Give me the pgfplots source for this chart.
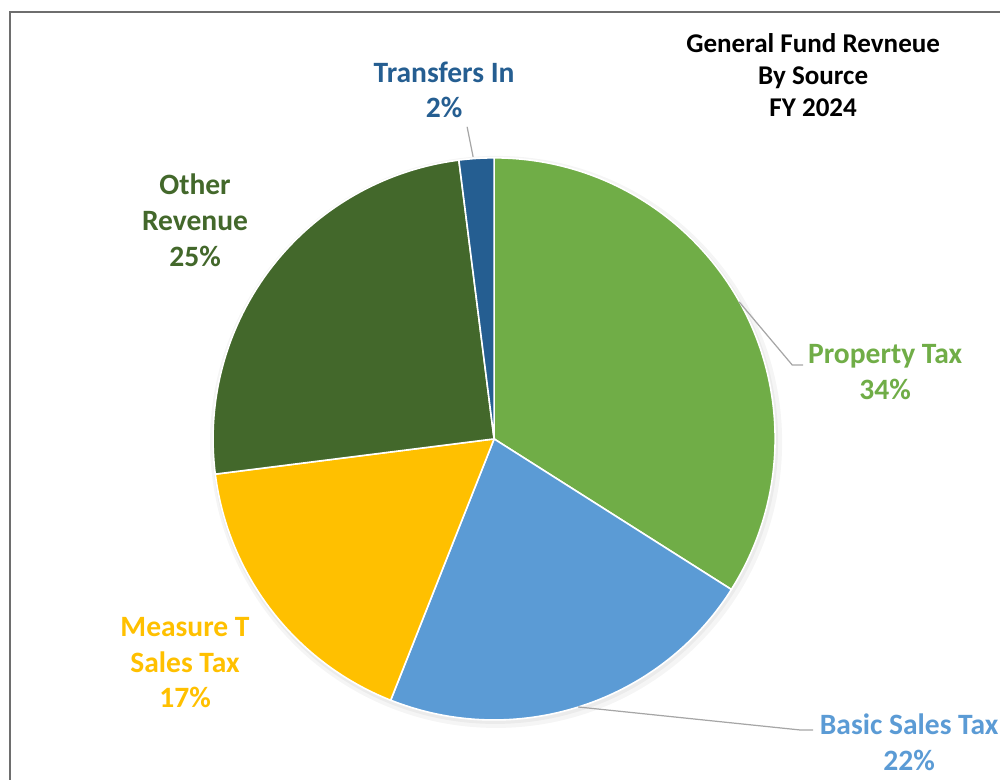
\documentclass[border=0pt]{standalone}
\usepackage{pgfplots}
\pgfplotsset{compat=1.18}
\usepackage{fontspec}
\setmainfont{Carlito}
\definecolor{proptax}{HTML}{70AD47}
\definecolor{basicsales}{HTML}{5B9BD5}
\definecolor{measuret}{HTML}{FFC000}
\definecolor{otherrev}{HTML}{43682B}
\definecolor{transfers}{HTML}{255E91}
\definecolor{leader}{HTML}{A6A6A6}
\definecolor{frame}{HTML}{6E6E6E}

% one pie slice: #1 cumulative percent before it, #2 its percent, #3 colour
\newcommand{\slice}[3]{%
  \fill[#3, draw=white, line width=0.9pt]
    (axis cs:494,341)
    -- (axis cs:{494+281*cos(90-3.6*#1)},{341+281*sin(90-3.6*#1)})
    arc[start angle={90-3.6*#1}, end angle={90-3.6*(#1+#2)}, radius=5.62cm]
    -- cycle;}
% one line of label text at a baseline
\newcommand{\lbl}[4]{\node[#1, anchor=base, font=\bfseries\fontsize{#2}{#2}\selectfont, inner sep=0pt] at (axis cs:#3) {#4};}

\begin{document}
\begin{tikzpicture}
\useasboundingbox (0,0) rectangle (20cm,15.6cm);
\begin{axis}[
    at={(0,0)}, anchor=south west,
    x=0.02cm, y=0.02cm,
    xmin=0, xmax=1000, ymin=0, ymax=780,
    hide axis, clip=false
]
% frame of the chart area
\draw[frame, line width=1pt] (axis cs:10,-5) -- (axis cs:10,768) -- (axis cs:1005,768);

% soft shadow
\fill[black, opacity=0.04] (axis cs:496,338) circle[radius=5.72cm];
\fill[black, opacity=0.04] (axis cs:495,339) circle[radius=5.66cm];

% slices, clockwise from 12 o'clock
\slice{0}{34}{proptax}
\slice{34}{22}{basicsales}
\slice{56}{17}{measuret}
\slice{73}{25}{otherrev}
\slice{98}{2}{transfers}

% leader lines
\draw[leader, line width=0.7pt] (axis cs:467,653) -- (axis cs:473,623);
\draw[leader, line width=0.7pt] (axis cs:739,478) -- (axis cs:792,415) -- (axis cs:803,415);
\draw[leader, line width=0.7pt] (axis cs:578,73) -- (axis cs:800,50) -- (axis cs:813,50);

% title
\lbl{black}{15.4}{813,727}{General Fund Revneue}
\lbl{black}{15.4}{813,695}{By Source}
\lbl{black}{15.4}{813,663}{FY 2024}

% data labels
\lbl{transfers}{16.8}{444,697}{Transfers In}
\lbl{transfers}{16.8}{444,662}{2\%}
\lbl{otherrev}{16.8}{195,585}{Other}
\lbl{otherrev}{16.8}{195,549}{Revenue}
\lbl{otherrev}{16.8}{195,513}{25\%}
\lbl{proptax}{16.8}{885,416}{Property Tax}
\lbl{proptax}{16.8}{885,380}{34\%}
\lbl{measuret}{16.8}{185,143}{Measure T}
\lbl{measuret}{16.8}{185,107}{Sales Tax}
\lbl{measuret}{16.8}{185,72}{17\%}
\lbl{basicsales}{16.8}{909,45}{Basic Sales Tax}
\lbl{basicsales}{16.8}{909,9}{22\%}
\end{axis}
\end{tikzpicture}
\end{document}
